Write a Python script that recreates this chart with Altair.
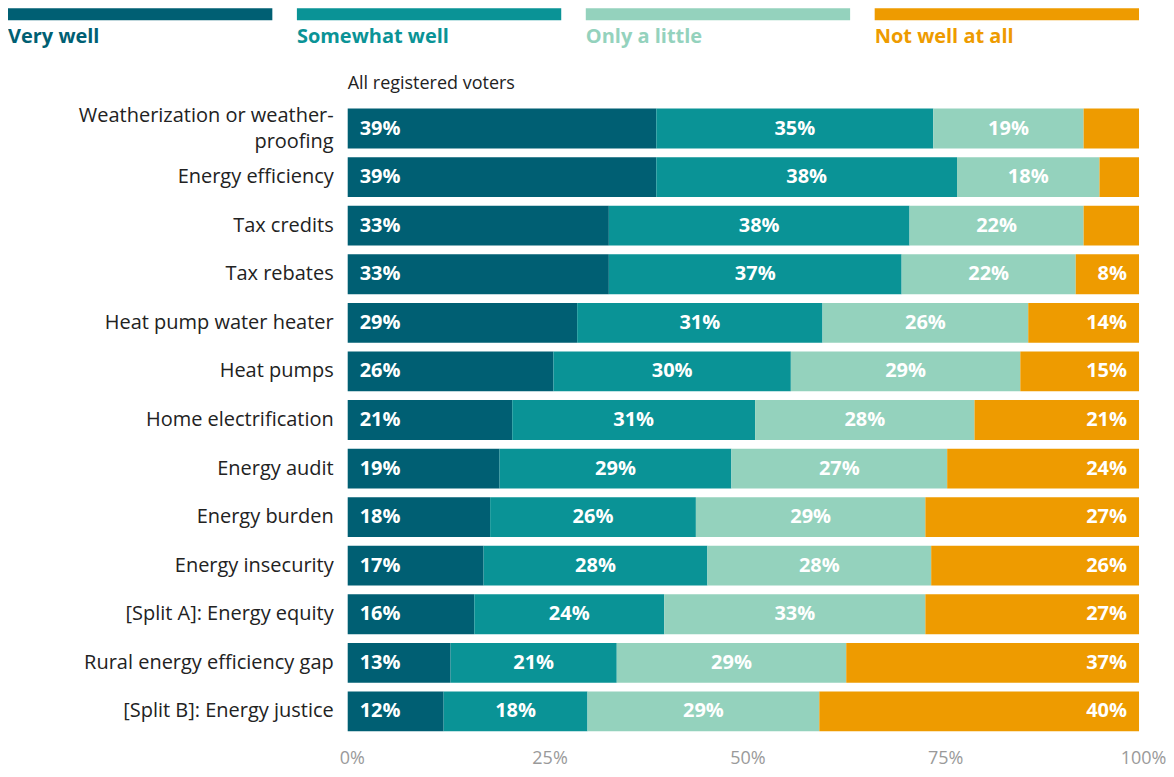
import altair as alt
import pandas as pd

items = [
    "Weatherization or weather-proofing",
    "Energy efficiency",
    "Tax credits",
    "Tax rebates",
    "Heat pump water heater",
    "Heat pumps",
    "Home electrification",
    "Energy audit",
    "Energy burden",
    "Energy insecurity",
    "[Split A]: Energy equity",
    "Rural energy efficiency gap",
    "[Split B]: Energy justice",
]
# the item whose label wraps onto two lines in the reference
wrapped_item = "Weatherization or weather-proofing"
wrapped_line1 = "Weatherization or weather-"
wrapped_line2 = "proofing"

categories = ["Very well", "Somewhat well", "Only a little", "Not well at all"]
colors = ["#005f73", "#0a9396", "#94d2bd", "#ee9b00"]

very_well = [39, 39, 33, 33, 29, 26, 21, 19, 18, 17, 16, 13, 12]
somewhat_well = [35, 38, 38, 37, 31, 30, 31, 29, 26, 28, 24, 21, 18]
only_a_little = [19, 18, 22, 22, 26, 29, 28, 27, 29, 28, 33, 29, 29]
not_well_at_all = [7, 5, 7, 8, 14, 15, 21, 24, 27, 26, 27, 37, 40]
# labels shown on bars (blank where the segment is unlabeled)
show_label = [
    [True] * 13,
    [True] * 13,
    [True] * 13,
    [False, False, False, True, True, True, True, True, True, True, True, True, True],
]
tick_values = [0, 0.25, 0.5, 0.75, 1]

series = [very_well, somewhat_well, only_a_little, not_well_at_all]
rows = []
for ci, (cat, vals) in enumerate(zip(categories, series)):
    for ii, (item, v) in enumerate(zip(items, vals)):
        rows.append({
            "item": item,
            "cat": cat,
            "order": ci,
            "value": v,
            "label": f"{v}%" if show_label[ci][ii] else "",
        })
df = pd.DataFrame(rows)
single_df = pd.DataFrame({"item": [i for i in items if i != wrapped_item]})
line1_df = pd.DataFrame({"item": [wrapped_item], "text": [wrapped_line1]})
line2_df = pd.DataFrame({"item": [wrapped_item], "text": [wrapped_line2]})

FONT = "Open Sans"
TOTAL_W = 1132
LABEL_W = 340
PLOT_W = TOTAL_W - LABEL_W

color_scale = alt.Scale(domain=categories, range=colors)

# ---- legend (top) ----
legend_df = pd.DataFrame({"cat": categories})
leg_scale = alt.Scale(paddingInner=0.085, paddingOuter=0)
legend_bars = alt.Chart(legend_df).mark_bar().encode(
    x=alt.X("cat:N", sort=categories, axis=None, scale=leg_scale),
    y=alt.value(0),
    y2=alt.value(12),
    color=alt.Color("cat:N", scale=color_scale, legend=None),
)
legend_text = alt.Chart(legend_df).mark_text(
    align="left", baseline="middle", fontSize=20, fontWeight="bold", font=FONT
).encode(
    x=alt.X("cat:N", sort=categories, axis=None, bandPosition=0, scale=leg_scale),
    y=alt.value(29),
    text="cat:N",
    color=alt.Color("cat:N", scale=color_scale, legend=None),
)
legend = alt.layer(legend_bars, legend_text).properties(width=TOTAL_W, height=67)

# ---- main chart ----
x_scale = alt.Scale(domain=[-LABEL_W / PLOT_W, 1], nice=False, zero=False)
x_axis = alt.Axis(format="%", values=tick_values, grid=False, domain=False, ticks=False,
                  labelFontSize=18, labelColor="#9a9a9a", labelFont=FONT,
                  labelPadding=14, labelFlush=False, labelOffset=4)
y_enc = alt.Y("item:N", sort=items, title=None, axis=None,
              scale=alt.Scale(paddingInner=0.18, paddingOuter=0.09))

base = alt.Chart(df).transform_joinaggregate(
    total="sum(value)", groupby=["item"]
).transform_calculate(
    pct="datum.value / datum.total"
).transform_stack(
    stack="pct", as_=["x0", "x1"], groupby=["item"],
    sort=[alt.SortField("order", order="ascending")]
)

bars = base.mark_bar().encode(
    x=alt.X("x0:Q", scale=x_scale, axis=x_axis, title=None),
    x2="x1:Q",
    y=y_enc,
    color=alt.Color("cat:N", scale=color_scale, legend=None),
)

txt_kw = dict(baseline="middle", fontSize=20, fontWeight="bold", color="white", font=FONT)

first_txt = base.transform_filter("datum.order == 0").mark_text(
    align="left", dx=12, **txt_kw
).encode(x=alt.X("x0:Q", scale=x_scale, axis=x_axis, title=None), y=y_enc, text="label:N")

mid_txt = base.transform_filter("datum.order == 1 || datum.order == 2").transform_calculate(
    xm="(datum.x0 + datum.x1) / 2"
).mark_text(align="center", **txt_kw).encode(
    x=alt.X("xm:Q", scale=x_scale, axis=x_axis, title=None), y=y_enc, text="label:N")

last_txt = base.transform_filter("datum.order == 3").mark_text(
    align="right", dx=-12, **txt_kw
).encode(x=alt.X("x1:Q", scale=x_scale, axis=x_axis, title=None), y=y_enc, text="label:N")

lab_kw = dict(align="right", baseline="middle", dx=-14, fontSize=20, color="#222222",
              font=FONT)


def label_layer(data, field, dy=0):
    return alt.Chart(data).transform_calculate(zero="0").mark_text(
        dy=dy, **lab_kw
    ).encode(
        x=alt.X("zero:Q", scale=x_scale, axis=x_axis, title=None),
        y=y_enc,
        text=f"{field}:N",
    )


item_labels = label_layer(single_df, "item")
wrap1 = label_layer(line1_df, "text", dy=-13)
wrap2 = label_layer(line2_df, "text", dy=13)

main = alt.layer(bars, first_txt, mid_txt, last_txt, item_labels, wrap1, wrap2).properties(
    width=TOTAL_W, height=632,
    title=alt.TitleParams("All registered voters", anchor="start", frame="group",
                          dx=LABEL_W, fontSize=18, fontWeight="normal",
                          color="#222222", font=FONT, offset=11),
)

chart = alt.vconcat(legend, main, spacing=0).properties(
    padding=0
).configure_view(stroke=None)

chart.save("out.html", embed_options={"renderer": "svg", "actions": False})
